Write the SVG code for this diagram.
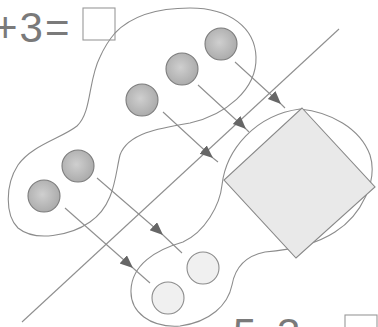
<svg xmlns="http://www.w3.org/2000/svg" width="378" height="327" viewBox="0 0 378 327">
<style>
.blob{fill:none;stroke:#8c8c8c;stroke-width:1.1}
.dark{fill:url(#g);stroke:#7c7c7c;stroke-width:1.1}
.light{fill:#f0f0f0;stroke:#8c8c8c;stroke-width:1.1}
.ln{fill:none;stroke:#8f8f8f;stroke-width:1.1}
.arr{fill:none;stroke:#8f8f8f;stroke-width:1.1;marker-mid:url(#ah)}
.t{font-family:"Liberation Sans",Arial,sans-serif;font-size:42px;fill:#7a7a7a}
.box{fill:#fff;stroke:#999;stroke-width:1.1}
</style>
<defs>
<radialGradient id="g" cx="0.45" cy="0.45" r="0.6">
<stop offset="0" stop-color="#cfcfcf"/>
<stop offset="1" stop-color="#a9a9a9"/>
</radialGradient>
<marker id="ah" markerUnits="userSpaceOnUse" markerWidth="14" markerHeight="12" refX="13" refY="5.5" orient="auto">
<path d="M0,0 L13,5.5 L0,11 Z" fill="#666"/>
</marker>
</defs>
<g id="text-top">
<text class="t" x="-7" y="42" letter-spacing="2">+3=</text>
<rect class="box" x="83" y="8" width="32" height="32"/>
</g>
<g id="text-bottom">
<text class="t" x="233" y="348" letter-spacing="-2">5−3=</text>
<rect class="box" x="345" y="315" width="32" height="32"/>
</g>
<g id="blob-upper">
<path class="blob" d="M115,33 C135,12 165,8 190,8 C230,8 255,28 256,57 C257,90 225,115 190,123 C160,128 128,133 120,155 C115,175 115,205 90,222 C70,236 35,242 18,228 C5,215 5,185 18,165 C32,145 62,138 77,126 C92,112 88,80 100,57 C104,48 109,40 115,33 Z"/>
</g>
<g id="blob-lower">
<path class="blob" d="M300,109 C330,112 360,128 370,155 C378,180 362,215 335,232 C315,245 290,250 265,252 C245,256 235,268 232,285 C228,305 210,322 180,326 C150,328 130,312 131,290 C132,265 155,250 183,242 C205,232 220,205 222,185 C226,150 255,115 300,109 Z"/>
</g>
<g id="connectors">
<line class="ln" x1="22" y1="322" x2="339" y2="29"/>
<path class="arr" d="M235,62 L281,104 L285,108"/>
<path class="arr" d="M198,85 L246,129 L249,132"/>
<path class="arr" d="M163,112 L213,158 L218,162"/>
<path class="arr" d="M97,178 L163,235 L182,253"/>
<path class="arr" d="M65,208 L133,268 L150,283"/>
</g>
<g id="square">
<polygon points="302,108 375,187 296,258 224,180" fill="#e9e9e9" stroke="#888" stroke-width="1.1"/>
</g>
<g id="c1"><circle class="dark" cx="221" cy="44" r="16"/></g>
<g id="c2"><circle class="dark" cx="182" cy="69" r="16"/></g>
<g id="c3"><circle class="dark" cx="142" cy="100" r="16"/></g>
<g id="c4"><circle class="dark" cx="78" cy="166" r="16"/></g>
<g id="c5"><circle class="dark" cx="44" cy="196" r="16"/></g>
<g id="l1"><circle class="light" cx="203" cy="268" r="16"/></g>
<g id="l2"><circle class="light" cx="168" cy="298" r="16"/></g>
</svg>
